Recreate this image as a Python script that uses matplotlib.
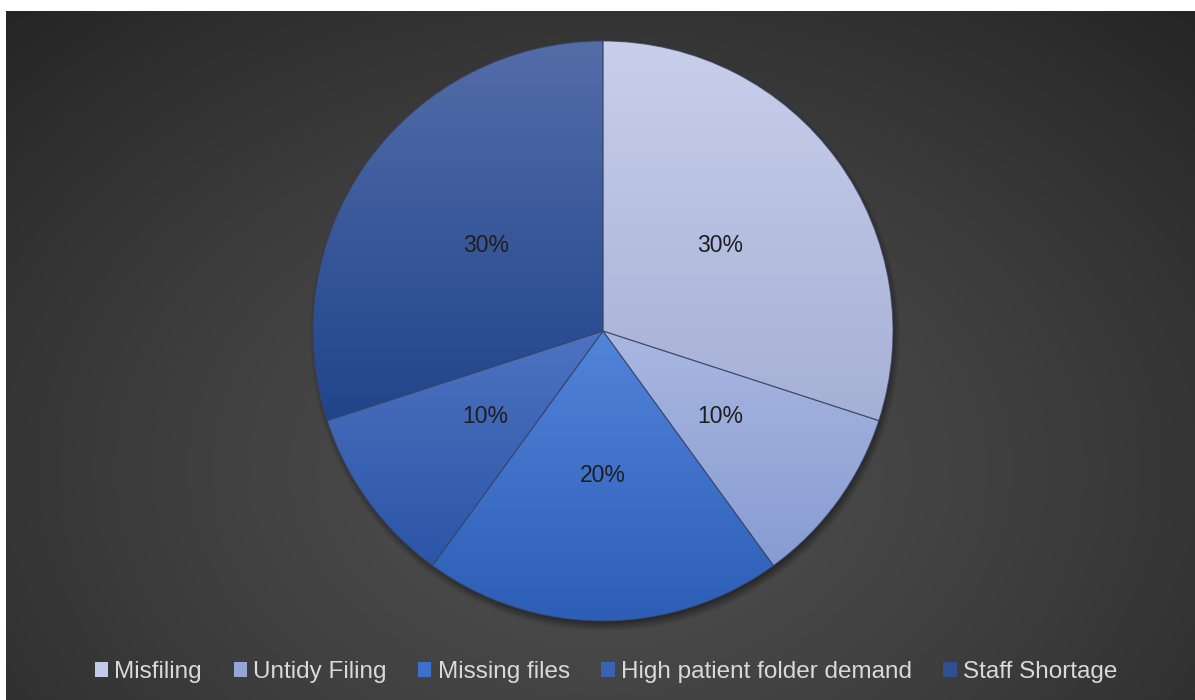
import numpy as np
import matplotlib
matplotlib.use("Agg")
import matplotlib.pyplot as plt
from matplotlib.patches import Patch
from matplotlib.colors import to_rgb

# Causes of delays in patient folder retrieval
categories = ["Misfiling", "Untidy Filing", "Missing files",
              "High patient folder demand", "Staff Shortage"]
shares = [30, 10, 20, 10, 30]

# vertical gradient (top colour, bottom colour) inside each slice
grad_top = ["#c8cfea", "#a9b7e1", "#5284da", "#4d73c0", "#536da8"]
grad_bottom = ["#a6b0d6", "#889cd2", "#2c5eb6", "#2b55a7", "#20448b"]
legend_colors = ["#c3cae7", "#94a6d8", "#3d6fcb", "#3a62b3", "#2f4f93"]

W, H = 1195, 700
plt.rcParams["font.family"] = ["Liberation Sans", "DejaVu Sans"]

fig = plt.figure(figsize=(W / 100, H / 100), dpi=100, facecolor="white")
ax = fig.add_axes([0, 0, 1, 1])

# dark panel with a soft radial light toward the lower middle
px0, px1, py0, py1 = 6, W, 0, H - 11
xs = np.linspace(px0, px1, 400)
ys = np.linspace(py1, py0, 240)
X, Y = np.meshgrid(xs, ys)
dx = (X - 600) / 640.0
dy = (Y - 230) / 470.0
d = np.clip(np.sqrt(dx ** 2 + dy ** 2) / 1.35, 0, 1) ** 1.3
light, dark = 0x4f / 255, 0x25 / 255
v = light - (light - dark) * d
bg = np.dstack([v, v, v])
ax.imshow(bg, extent=[px0, px1, py0, py1], origin="upper",
          interpolation="bilinear", aspect="auto", zorder=0)

cx, cy, r = 603, 369, 290

# soft drop shadow under the pie
sx = np.linspace(cx - r - 30, cx + r + 30, 500)
sy = np.linspace(cy + r + 30, cy - r - 30, 500)
SX, SY = np.meshgrid(sx, sy)
dist = np.sqrt((SX - cx - 2) ** 2 + (SY - cy + 5) ** 2)
alpha = 0.55 * np.clip((r + 6 - dist) / 12.0, 0, 1)
shadow = np.zeros((500, 500, 4))
shadow[..., 3] = alpha
ax.imshow(shadow, extent=[sx[0], sx[-1], sy[-1], sy[0]], origin="upper",
          interpolation="bilinear", aspect="auto", zorder=1)

wedges, texts, autotexts = ax.pie(
    shares, center=(cx, cy), radius=r, startangle=90, counterclock=False,
    autopct="%1.0f%%", pctdistance=0.5, labels=None,
    wedgeprops=dict(facecolor="none", edgecolor=(0.22, 0.27, 0.42, 0.7),
                    linewidth=0.8),
    textprops=dict(color="#1e1e1e", fontsize=16.5))

for w, top, bot in zip(wedges, grad_top, grad_bottom):
    w.set_zorder(3)
    # vertical span of this slice
    ang = np.radians(np.linspace(w.theta1, w.theta2, 200))
    wy = np.concatenate([[w.center[1]], w.center[1] + w.r * np.sin(ang)])
    y_lo, y_hi = wy.min(), wy.max()
    t = np.array(to_rgb(top))
    b = np.array(to_rgb(bot))
    f = np.linspace(0, 1, 256)[:, None]
    grad = (t * (1 - f) + b * f)[:, None, :]
    im = ax.imshow(grad, extent=[cx - r, cx + r, y_lo, y_hi],
                   origin="upper", interpolation="bilinear",
                   aspect="auto", zorder=2)
    im.set_clip_path(w)

for t in autotexts:
    t.set_zorder(4)

ax.set_xlim(0, W)
ax.set_ylim(0, H)
ax.set_aspect("auto")
ax.axis("off")

handles = [Patch(facecolor=c, edgecolor="none") for c in legend_colors]
fig.legend(handles, categories, loc="center", bbox_to_anchor=(606 / W, 1 - 672 / H),
           ncol=5, frameon=False, handlelength=0.55, handleheight=0.55,
           handletextpad=0.25, columnspacing=1.3, labelcolor="#d9d9d9",
           prop=dict(size=17.5))

fig.savefig("out.png", dpi=100, facecolor="white")
